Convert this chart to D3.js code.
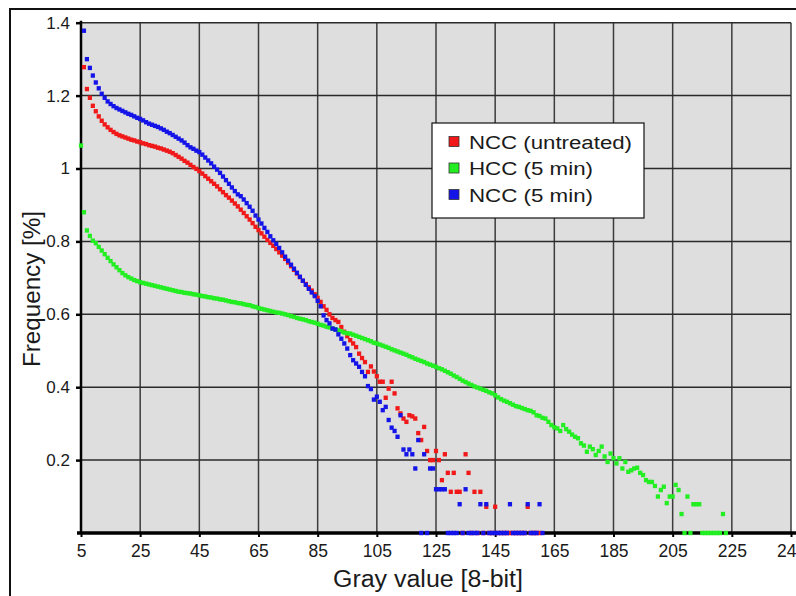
<!DOCTYPE html>
<html>
<head>
<meta charset="utf-8">
<script src="https://cdn.jsdelivr.net/npm/d3@7"></script>
<style>
    body { margin: 0; background: #fff; }
    svg { display: block; }
    text { font-family: Arial, "Liberation Sans", sans-serif; fill: #1a1a1a; }
</style>
</head>
<body>
<svg id="chart" width="796" height="596"></svg>
<script>

// tick values / labels
var xTicks = [5, 25, 45, 65, 85, 105, 125, 145, 165, 185, 205, 225, 245];
var yTicks = [0.2, 0.4, 0.6, 0.8, 1, 1.2, 1.4];
var yTickLabels = ["0.2", "0.4", "0.6", "0.8", "1", "1.2", "1.4"];

var seriesNames = ["NCC (untreated)", "HCC (5 min)", "NCC (5 min)"];
var seriesColors = ["#f01818", "#22ee22", "#1414e8"];

// frequency [%] per gray value, one entry per gray level starting at *Start
var redStart = 6;
var redValues = [
    1.278, 1.218, 1.194, 1.172, 1.157, 1.143, 1.131, 1.121, 1.113, 1.106,
    1.100, 1.095, 1.091, 1.088, 1.085, 1.082, 1.079, 1.077, 1.074, 1.072,
    1.069, 1.067, 1.064, 1.062, 1.060, 1.057, 1.055, 1.052, 1.049, 1.046,
    1.042, 1.037, 1.032, 1.027, 1.021, 1.016, 1.010, 1.004, 0.999, 0.993,
    0.986, 0.979, 0.972, 0.965, 0.958, 0.951, 0.943, 0.935, 0.927, 0.920,
    0.912, 0.904, 0.896, 0.887, 0.878, 0.869, 0.860, 0.850, 0.840, 0.831,
    0.822, 0.813, 0.804, 0.796, 0.788, 0.779, 0.770, 0.761, 0.752, 0.742,
    0.732, 0.722, 0.712, 0.702, 0.692, 0.683, 0.674, 0.665, 0.655, 0.645,
    0.634, 0.622, 0.612, 0.600, 0.590, 0.584, 0.579, 0.565, 0.552, 0.540,
    0.529, 0.520, 0.510, 0.492, 0.480, 0.469, 0.442, 0.457, 0.443, 0.430,
    0.415, 0.415, 0.371, 0.396, 0.415, 0.383, 0.342, 0.328, 0.314, 0.305,
    0.323, 0.320, 0.314, 0.274, 0.255, 0.291, 0.225, 0.200, 0.200, 0.225,
    0.200, 0.145, 0.216, 0.165, 0.113, 0.165, 0.113, 0.113, 0, 0.216,
    0.165, 0, 0.113, 0, 0.113, 0, 0.072, 0, 0, 0.072,
    0, 0, 0, 0, 0, 0, 0, 0, 0, 0,
    0.072, 0, 0, 0, 0
];

var greenStart = 5;
var greenValues = [
    1.063, 0.880, 0.830, 0.815, 0.802, 0.795, 0.785, 0.775, 0.765, 0.755,
    0.746, 0.737, 0.729, 0.721, 0.713, 0.707, 0.702, 0.698, 0.694, 0.691,
    0.688, 0.686, 0.684, 0.682, 0.680, 0.678, 0.676, 0.674, 0.672, 0.670,
    0.668, 0.666, 0.664, 0.662, 0.661, 0.659, 0.658, 0.657, 0.655, 0.654,
    0.652, 0.650, 0.649, 0.647, 0.646, 0.644, 0.643, 0.641, 0.640, 0.638,
    0.636, 0.634, 0.633, 0.631, 0.630, 0.628, 0.626, 0.625, 0.622, 0.620,
    0.617, 0.615, 0.613, 0.611, 0.609, 0.607, 0.605, 0.604, 0.602, 0.600,
    0.598, 0.595, 0.593, 0.590, 0.588, 0.586, 0.584, 0.581, 0.579, 0.577,
    0.574, 0.571, 0.569, 0.566, 0.564, 0.561, 0.559, 0.556, 0.553, 0.550,
    0.548, 0.547, 0.544, 0.541, 0.538, 0.535, 0.532, 0.529, 0.526, 0.522,
    0.520, 0.517, 0.514, 0.511, 0.508, 0.504, 0.501, 0.498, 0.495, 0.492,
    0.489, 0.485, 0.482, 0.478, 0.475, 0.472, 0.469, 0.465, 0.462, 0.459,
    0.456, 0.452, 0.449, 0.445, 0.441, 0.437, 0.432, 0.428, 0.423, 0.418,
    0.414, 0.410, 0.406, 0.402, 0.399, 0.396, 0.393, 0.390, 0.386, 0.383,
    0.378, 0.372, 0.367, 0.363, 0.360, 0.356, 0.352, 0.348, 0.346, 0.343,
    0.340, 0.337, 0.335, 0.331, 0.323, 0.321, 0.316, 0.314, 0.305, 0.296,
    0.290, 0.287, 0.280, 0.296, 0.285, 0.278, 0.270, 0.264, 0.260, 0.246,
    0.240, 0.223, 0.237, 0.230, 0.214, 0.225, 0.237, 0.210, 0.195, 0.218,
    0.205, 0.191, 0.205, 0.177, 0.195, 0.168, 0.172, 0.177, 0.179, 0.165,
    0.159, 0.145, 0.140, 0.140, 0.129, 0.100, 0.118, 0.127, 0.082, 0.100,
    0.100, 0.132, 0.118, 0.052, 0, 0.100, 0, 0.079, 0.079, 0.079,
    0, 0, 0, 0, 0, 0, 0, 0.052, 0
];

var blueStart = 6;
var blueValues = [
    1.378, 1.300, 1.276, 1.255, 1.236, 1.220, 1.205, 1.194, 1.184, 1.177,
    1.171, 1.166, 1.162, 1.158, 1.154, 1.150, 1.147, 1.143, 1.139, 1.136,
    1.132, 1.127, 1.123, 1.120, 1.117, 1.114, 1.110, 1.106, 1.101, 1.097,
    1.092, 1.087, 1.082, 1.077, 1.071, 1.064, 1.058, 1.054, 1.049, 1.045,
    1.038, 1.030, 1.022, 1.014, 1.005, 0.997, 0.988, 0.978, 0.968, 0.958,
    0.948, 0.938, 0.929, 0.924, 0.915, 0.905, 0.895, 0.884, 0.871, 0.860,
    0.849, 0.837, 0.826, 0.814, 0.803, 0.793, 0.782, 0.770, 0.758, 0.747,
    0.736, 0.725, 0.714, 0.703, 0.692, 0.681, 0.670, 0.660, 0.650, 0.637,
    0.622, 0.597, 0.584, 0.575, 0.561, 0.558, 0.545, 0.533, 0.520, 0.506,
    0.488, 0.474, 0.465, 0.456, 0.442, 0.430, 0.403, 0.395, 0.366, 0.374,
    0.360, 0.337, 0.346, 0.310, 0.289, 0.280, 0.264, 0.323, 0.229, 0.216,
    0.229, 0.216, 0.177, 0.255, 0, 0.216, 0, 0.177, 0.177, 0.120,
    0.120, 0.120, 0.120, 0, 0, 0, 0, 0.079, 0, 0.120,
    0, 0, 0, 0, 0.079, 0, 0.079, 0, 0, 0,
    0, 0, 0, 0, 0.079, 0, 0, 0, 0, 0,
    0.079, 0, 0, 0, 0.079, 0
];

var svg = d3.select("#chart");

// plot area
var plotLeft = 81, plotRight = 791, plotTop = 22.7, plotBottom = 533;

var x = d3.scaleLinear().domain([5, 245]).range([plotLeft, plotRight]);
var y = d3.scaleLinear().domain([0, 1.4]).range([plotBottom, plotTop]);

// outer frame (runs off the right/bottom edge like the picture)
svg.append("rect")
    .attr("x", 10).attr("y", 9)
    .attr("width", 820).attr("height", 620)
    .attr("fill", "none")
    .attr("stroke", "#111")
    .attr("stroke-width", 2);

// plot background
svg.append("rect")
    .attr("x", plotLeft).attr("y", plotTop)
    .attr("width", plotRight - plotLeft).attr("height", plotBottom - plotTop)
    .attr("fill", "#dedede");

// grid
var grid = svg.append("g").attr("class", "grid");

grid.selectAll(".vgrid")
    .data(xTicks.slice(1))
    .enter()
    .append("line")
    .attr("class", "vgrid")
    .attr("x1", function(d) { return x(d); })
    .attr("x2", function(d) { return x(d); })
    .attr("y1", plotTop)
    .attr("y2", plotBottom)
    .attr("stroke", "#3c3c3c")
    .attr("stroke-width", 1.5);

grid.selectAll(".hgrid")
    .data(yTicks)
    .enter()
    .append("line")
    .attr("class", "hgrid")
    .attr("x1", plotLeft)
    .attr("x2", plotRight)
    .attr("y1", function(d) { return y(d); })
    .attr("y2", function(d) { return y(d); })
    .attr("stroke", "#2a2a2a")
    .attr("stroke-width", 1.5);

// axes
var yAxis = d3.axisLeft(y)
    .tickValues(yTicks)
    .tickSize(5)
    .tickPadding(6)
    .tickFormat(function(d, i) { return yTickLabels[i]; });

var xAxis = d3.axisBottom(x)
    .tickValues(xTicks)
    .tickSize(4)
    .tickPadding(8)
    .tickFormat(function(d) { return d; });

var gy = svg.append("g")
    .attr("transform", "translate(" + plotLeft + ",0)")
    .call(yAxis);
gy.select(".domain").remove();
gy.selectAll(".tick line").attr("stroke", "#000").attr("stroke-width", 2.5);
gy.selectAll(".tick text")
    .style("font-size", "17px")
    .style("font-family", "Arial, 'Liberation Sans', sans-serif")
    .attr("fill", "#1a1a1a");

var gx = svg.append("g")
    .attr("transform", "translate(0," + plotBottom + ")")
    .call(xAxis);
gx.select(".domain").remove();
gx.selectAll(".tick line").attr("stroke", "#000").attr("stroke-width", 2);
gx.selectAll(".tick text")
    .style("font-size", "17.5px")
    .style("font-family", "Arial, 'Liberation Sans', sans-serif")
    .attr("fill", "#1a1a1a");

svg.append("line")
    .attr("x1", plotLeft).attr("x2", plotLeft)
    .attr("y1", plotTop - 2).attr("y2", plotBottom)
    .attr("stroke", "#000").attr("stroke-width", 2.5);

svg.append("line")
    .attr("x1", plotLeft - 4).attr("x2", 796)
    .attr("y1", plotBottom).attr("y2", plotBottom)
    .attr("stroke", "#000").attr("stroke-width", 3.5);

// series as small square markers
function toPoints(start, values) {
    return values.map(function(v, i) { return {g: start + i, v: v}; });
}

var series = [
    toPoints(redStart, redValues),
    toPoints(greenStart, greenValues),
    toPoints(blueStart, blueValues)
];

series.forEach(function(points, k) {
    svg.append("g")
        .selectAll("rect")
        .data(points)
        .enter()
        .append("rect")
        .attr("x", function(d) { return x(d.g) - 2.1; })
        .attr("y", function(d) { return y(d.v) - 2.2; })
        .attr("width", 4.2)
        .attr("height", 4.4)
        .attr("fill", seriesColors[k]);
});

// legend
var legend = svg.append("g").attr("transform", "translate(432,123)");

legend.append("rect")
    .attr("width", 212).attr("height", 95)
    .attr("fill", "#fff")
    .attr("stroke", "#111")
    .attr("stroke-width", 1.2);

var legendWidths = [163, 124, 124];

var item = legend.selectAll(".item")
    .data(seriesNames)
    .enter()
    .append("g")
    .attr("class", "item")
    .attr("transform", function(d, i) { return "translate(0," + (19 + i * 26.5) + ")"; });

item.append("rect")
    .attr("x", 17).attr("y", -5.5)
    .attr("width", 10).attr("height", 10)
    .attr("fill", function(d, i) { return seriesColors[i]; })
    .attr("stroke", "#333")
    .attr("stroke-width", 0.8);

item.append("text")
    .attr("x", 37)
    .attr("y", 6.5)
    .attr("textLength", function(d, i) { return legendWidths[i]; })
    .attr("lengthAdjust", "spacingAndGlyphs")
    .style("font-size", "18px")
    .text(function(d) { return d; });

// axis titles
svg.append("text")
    .attr("x", 428)
    .attr("y", 587)
    .attr("text-anchor", "middle")
    .attr("textLength", 190)
    .attr("lengthAdjust", "spacingAndGlyphs")
    .style("font-size", "23px")
    .text("Gray value [8-bit]");

svg.append("text")
    .attr("transform", "translate(40,289) rotate(-90)")
    .attr("text-anchor", "middle")
    .attr("textLength", 156)
    .attr("lengthAdjust", "spacingAndGlyphs")
    .style("font-size", "23px")
    .text("Frequency [%]");

</script>
</body>
</html>
